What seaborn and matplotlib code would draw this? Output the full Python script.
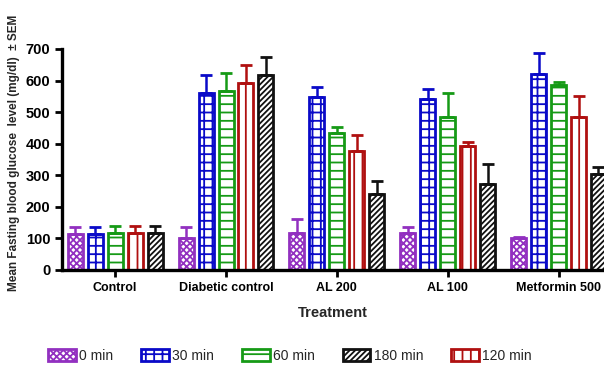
import matplotlib
matplotlib.use("Agg")
import matplotlib.pyplot as plt
import numpy as np
import pandas as pd
import seaborn as sns
from matplotlib.patches import Patch

GROUPS = ["Control", "Diabetic control", "AL 200", "AL 100", "Metformin 500"]
TIMES = ["0 min", "30 min", "60 min", "120 min", "180 min"]

# mean fasting blood glucose (mg/dl), one list per time point, in GROUPS order
MEAN_0 = [113, 101, 118, 118, 100]
MEAN_30 = [113, 561, 549, 541, 620]
MEAN_60 = [118, 568, 435, 486, 585]
MEAN_120 = [118, 591, 378, 393, 486]
MEAN_180 = [118, 618, 241, 272, 304]

SEM_0 = [22, 35, 42, 19, 5]
SEM_30 = [22, 57, 30, 32, 66]
SEM_60 = [20, 57, 19, 74, 11]
SEM_120 = [20, 58, 49, 13, 65]
SEM_180 = [20, 58, 41, 65, 21]

LEGEND_ORDER = ["0 min", "30 min", "60 min", "180 min", "120 min"]

COLORS = {
    "0 min": "#9230C0",
    "30 min": "#0A0AC8",
    "60 min": "#169A16",
    "120 min": "#B01010",
    "180 min": "#111111",
}
HATCHES = {
    "0 min": "xxxxx",
    "30 min": "++",
    "60 min": "--",
    "120 min": "||",
    "180 min": "//////",
}

means = [MEAN_0, MEAN_30, MEAN_60, MEAN_120, MEAN_180]
sems = [SEM_0, SEM_30, SEM_60, SEM_120, SEM_180]

rows = []
for t, m_list, s_list in zip(TIMES, means, sems):
    for g, m, s in zip(GROUPS, m_list, s_list):
        rows.append({"Treatment": g, "Time": t, "mean": m, "sem": s})
df = pd.DataFrame(rows)

sns.set_style("ticks")
plt.rcParams["font.family"] = ["Liberation Sans", "DejaVu Sans"]
plt.rcParams["hatch.linewidth"] = 1.3

fig = plt.figure(figsize=(6.04, 3.70), dpi=100)
ax = fig.add_axes([0.1026, 0.2703, 0.8974, 0.5973])

sns.barplot(
    data=df, x="Treatment", y="mean", hue="Time",
    order=GROUPS, hue_order=TIMES, palette=COLORS,
    width=0.9, gap=0.25, errorbar=None, legend=False, ax=ax,
)

for t, cont in zip(TIMES, ax.containers):
    sub = df[df["Time"] == t].set_index("Treatment").loc[GROUPS]
    xs = []
    for bar in cont:
        bar.set_facecolor("white")
        bar.set_edgecolor(COLORS[t])
        bar.set_linewidth(2.0)
        bar.set_hatch(HATCHES[t])
        xs.append(bar.get_x() + bar.get_width() / 2)
    ax.errorbar(
        xs, sub["mean"].values,
        yerr=[np.zeros(len(xs)), sub["sem"].values],
        fmt="none", ecolor=COLORS[t], elinewidth=1.8,
        capsize=4, capthick=2, zorder=1,
    )

ax.set_ylim(0, 700)
ax.set_yticks(range(0, 701, 100))
ax.set_xlim(-0.48, 4.41)
sns.despine(ax=ax)
for side in ("left", "bottom"):
    ax.spines[side].set_linewidth(2.4)
    ax.spines[side].set_color("black")
ax.tick_params(axis="both", direction="out", length=5, width=2, colors="black")
for lab in ax.get_yticklabels():
    lab.set_fontsize(10.5)
    lab.set_fontweight("bold")
for lab in ax.get_xticklabels():
    lab.set_fontsize(9)
    lab.set_fontweight("bold")

ax.set_xlabel("Treatment", fontsize=10.5, fontweight="bold", labelpad=9)
ax.set_ylabel("Mean Fasting blood glucose  level (mg/dl)  \u00b1 SEM",
              fontsize=8.5, fontweight="bold")
ax.yaxis.set_label_coords(-0.0775, 0.53)

handles = [
    Patch(facecolor="white", edgecolor=COLORS[t], hatch=HATCHES[t], linewidth=2.0)
    for t in LEGEND_ORDER
]
fig.legend(
    handles, LEGEND_ORDER, loc="center", bbox_to_anchor=(0.48, 0.038),
    ncol=5, frameon=False, fontsize=10, handlelength=2.0, handleheight=0.9,
    columnspacing=2.0, handletextpad=0.25,
)

fig.savefig("out.png", dpi=100)
